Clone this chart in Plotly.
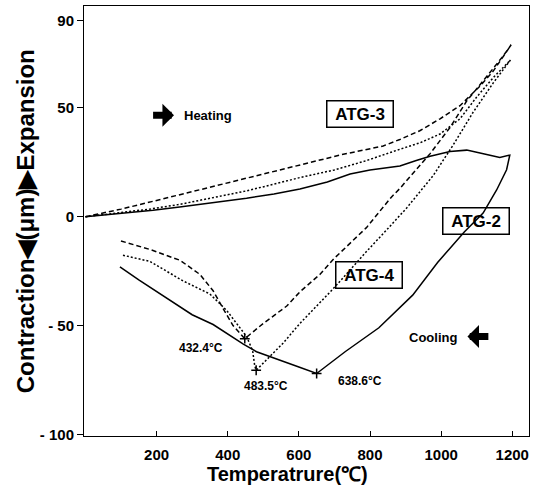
import plotly.graph_objects as go

# ---------------- data ----------------
# ATG-2 (solid)
atg2_heat_T = [0, 100, 190, 265, 350, 453, 530, 603, 680, 744, 800, 856, 884, 930, 969, 1025, 1072, 1128, 1165, 1193]
atg2_heat_v = [0, 1.5, 3, 4.5, 6.3, 8.5, 10.5, 12.7, 16, 19.6, 21.5, 22.6, 23.3, 25.8, 27.8, 30, 30.6, 28.6, 27.2, 28.3]
atg2_cool_T = [1193, 1184, 1156, 1118, 1065, 990, 920, 825, 730, 690, 650, 600, 547, 481, 444, 400, 359, 300, 219, 150, 97]
atg2_cool_v = [28.3, 21.6, 12.3, 1.7, -7, -21, -36, -51, -62, -67, -72, -69, -66, -62, -58.5, -54, -49.5, -45, -36.5, -29, -23]

# ATG-3 (dashed)
atg3_heat_T = [0, 100, 200, 300, 400, 500, 620, 720, 837, 884, 940, 997, 1053, 1109, 1147, 1197]
atg3_heat_v = [0, 3.5, 7.5, 11.5, 15.5, 19.5, 24.5, 28.5, 32.5, 35.5, 39.5, 45, 51, 60, 67, 79]
atg3_cool_T = [1197, 1175, 1128, 1072, 1025, 969, 884, 860, 790, 697, 659, 603, 566, 500, 448, 415, 390, 359, 322, 266, 181, 97]
atg3_cool_v = [79, 74, 64.4, 53.2, 41, 29, 13, 9, -5, -19.5, -26.5, -34.5, -41, -49, -56, -50, -43, -34, -26.5, -20, -15, -11]

# ATG-4 (dotted)
atg4_heat_T = [0, 100, 180, 266, 350, 453, 531, 603, 700, 790, 884, 941, 997, 1053, 1100, 1147, 1195]
atg4_heat_v = [0, 1.8, 3.5, 5.7, 8.5, 11.9, 15, 18, 21.5, 25.8, 31, 34, 38, 45, 55, 64, 72]
atg4_cool_T = [1195, 1147, 1090, 1034, 978, 903, 847, 790, 697, 650, 603, 556, 480, 476, 470, 453, 425, 397, 350, 275, 181, 101]
atg4_cool_v = [72, 61.6, 48, 33, 19, 4, -6, -16, -33, -41, -49, -58, -70.5, -68.5, -61.5, -55, -49, -43, -35.5, -29.5, -20.5, -17.5]

# transition points
min_T = [448, 480, 650]
min_v = [-56, -70.5, -72]
min_labels = ["432.4°C", "483.5°C", "638.6°C"]

x_ticks = [200, 400, 600, 800, 1000, 1200]
y_ticks = [90, 50, 0, -50, -100]
y_ticktext = ["90", "50", "0", "- 50", "- 100"]

# ---------------- figure ----------------
FONT = "Liberation Sans"
NB = "\u00a0"
fig = go.Figure()

fig.add_trace(go.Scatter(x=atg2_heat_T + atg2_cool_T, y=atg2_heat_v + atg2_cool_v, mode="lines",
                         line=dict(color="black", width=1.5), name="ATG-2"))
fig.add_trace(go.Scatter(x=atg3_heat_T + atg3_cool_T, y=atg3_heat_v + atg3_cool_v, mode="lines",
                         line=dict(color="black", width=1.5, dash="5px,3px"), name="ATG-3"))
fig.add_trace(go.Scatter(x=atg4_heat_T + atg4_cool_T, y=atg4_heat_v + atg4_cool_v, mode="lines",
                         line=dict(color="black", width=1.5, dash="2px,2px"), name="ATG-4"))
fig.add_trace(go.Scatter(x=min_T, y=min_v, mode="markers",
                         marker=dict(symbol="cross-thin", size=7, line=dict(color="black", width=1.5)),
                         name="min"))

ann = []
label_pos = [(326, -60.1), (509, -77.8), (772, -75.3)]
for (tx, ty), txt in zip(label_pos, min_labels):
    ann.append(dict(x=tx, y=ty, text=txt, showarrow=False, xanchor="center", yanchor="middle",
                    font=dict(family=FONT, size=12, color="black", weight="bold")))
for txt, tx, ty in [("ATG-3", 772, 47.4), ("ATG-2", 1097, -1.9), ("ATG-4", 797, -26.6)]:
    ann.append(dict(x=tx, y=ty, text=NB + txt + NB, showarrow=False, bordercolor="black", borderwidth=1.5,
                    borderpad=3, xanchor="center", yanchor="middle",
                    font=dict(family=FONT, size=17, color="black", weight="bold")))
ann.append(dict(x=345, y=46.4, text="Heating", showarrow=False, xanchor="center", yanchor="middle",
                font=dict(family=FONT, size=13, color="black", weight="bold")))
ann.append(dict(x=978, y=-55.5, text="Cooling", showarrow=False, xanchor="center", yanchor="middle",
                font=dict(family=FONT, size=13, color="black", weight="bold")))
ann.append(dict(x=249, y=46.6, ax=186, ay=46.6, axref="x", ayref="y", text="", showarrow=True,
                arrowhead=1, arrowsize=0.55, arrowwidth=7, arrowcolor="black"))
ann.append(dict(x=1074, y=-55, ax=1137, ay=-55, axref="x", ayref="y", text="", showarrow=True,
                arrowhead=1, arrowsize=0.55, arrowwidth=7, arrowcolor="black"))
ann.append(dict(xref="paper", yref="paper", x=0.458, y=-0.088, text="Temperatrure(℃)", showarrow=False,
                xanchor="center", yanchor="middle",
                font=dict(family=FONT, size=20, color="black", weight="bold")))
ann.append(dict(xref="paper", yref="paper", x=-0.132, y=0.5, text="Contraction◀(μm)▶Expansion",
                textangle=-90, showarrow=False, xanchor="center", yanchor="middle",
                font=dict(family=FONT, size=24, color="black", weight="bold")))

fig.update_layout(
    width=541, height=489,
    margin=dict(l=84, r=12, t=6, b=53),
    paper_bgcolor="white", plot_bgcolor="white",
    showlegend=False,
    annotations=ann,
    font=dict(family=FONT, color="black"),
)
fig.update_xaxes(range=[-4, 1247], tickvals=x_ticks, ticks="inside", ticklen=5, tickwidth=1,
                 tickcolor="black", showline=True, linecolor="black", linewidth=1, mirror=True,
                 showgrid=False, zeroline=False, ticklabelstandoff=5,
                 tickfont=dict(family=FONT, size=15, color="black", weight="bold"))
fig.update_yaxes(range=[-100.7, 96.8], tickvals=y_ticks, ticktext=y_ticktext, ticks="outside",
                 ticklen=6, tickwidth=1, tickcolor="black", showline=True, linecolor="black",
                 linewidth=1, mirror=True, showgrid=False, zeroline=False,
                 tickfont=dict(family=FONT, size=15, color="black", weight="bold"))

fig.write_html("out.html")
